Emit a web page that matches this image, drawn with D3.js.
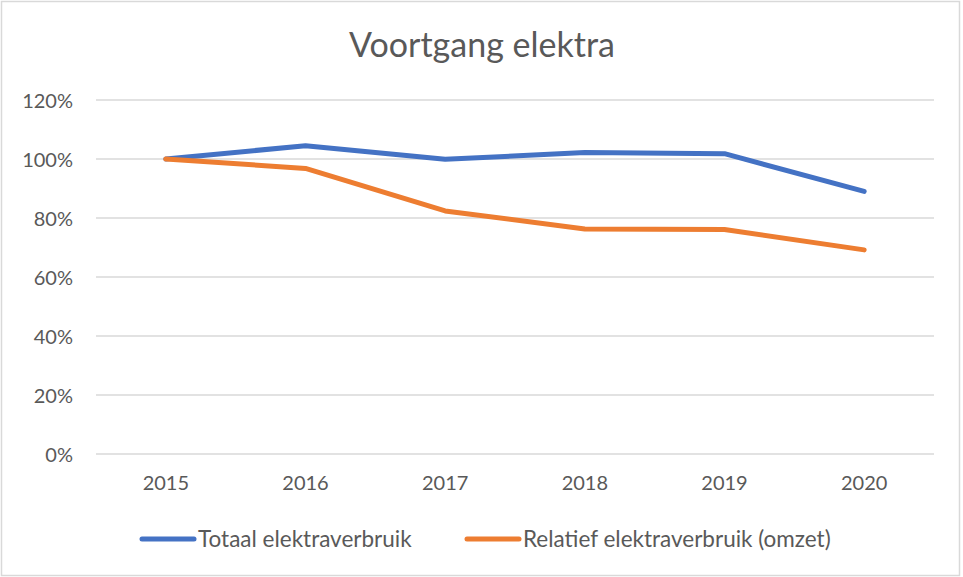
<!DOCTYPE html>
<html>
<head>
<meta charset="utf-8">
<script src="https://d3js.org/d3.v7.min.js"></script>
<style>
body { margin: 0; background: #fff; }
text { font-family: Lato, "Open Sans", sans-serif; fill: #595959; }
</style>
</head>
<body>
<div id="chart"></div>
<script>
// data
var years = ["2015", "2016", "2017", "2018", "2019", "2020"];
var totaal = [1.00, 1.045, 0.999, 1.022, 1.018, 0.89];
var relatief = [1.00, 0.968, 0.824, 0.763, 0.761, 0.692];
var seriesNames = ["Totaal elektraverbruik", "Relatief elektraverbruik (omzet)"];
var seriesColors = ["#4472C4", "#ED7D31"];
var yTicks = [0, 0.2, 0.4, 0.6, 0.8, 1.0, 1.2];

var W = 963, H = 577;
var margin = {top: 100, right: 29, bottom: 123, left: 96};
var width = W - margin.left - margin.right,
    height = H - margin.top - margin.bottom;

var svg = d3.select("#chart").append("svg")
  .attr("width", W)
  .attr("height", H);

// outer border
svg.append("rect")
  .attr("x", 1.5).attr("y", 1.5)
  .attr("width", W - 5).attr("height", H - 3)
  .attr("fill", "#fff")
  .attr("stroke", "#d9d9d9")
  .attr("stroke-width", 1.5);

// title
svg.append("text")
  .attr("x", 482).attr("y", 57)
  .attr("text-anchor", "middle")
  .style("font-size", "34px")
  .text("Voortgang elektra");

var g = svg.append("g")
  .attr("transform", "translate(" + margin.left + "," + margin.top + ")");

var x = d3.scaleBand().domain(years).range([0, width]);
var y = d3.scaleLinear().domain([0, 1.2]).range([height, 0]);

// gridlines
g.append("g")
  .selectAll("line")
  .data(yTicks)
  .enter().append("line")
    .attr("x1", 0).attr("x2", width)
    .attr("y1", function(d) { return y(d); })
    .attr("y2", function(d) { return y(d); })
    .attr("stroke", "#d9d9d9")
    .attr("stroke-width", 1.3);

// y axis labels
var yAxis = g.append("g")
  .call(d3.axisLeft(y).tickValues(yTicks).tickSize(0).tickPadding(23)
    .tickFormat(d3.format(".0%")));
yAxis.select(".domain").remove();
yAxis.selectAll("text").style("font-size", "20px").attr("dy", "0.35em");

// x axis labels
var xAxis = g.append("g")
  .attr("transform", "translate(0," + height + ")")
  .call(d3.axisBottom(x).tickSize(0).tickPadding(22));
xAxis.select(".domain").remove();
xAxis.selectAll("text").style("font-size", "20px");

// lines
var line = d3.line()
  .x(function(d, i) { return x(years[i]) + x.bandwidth() / 2; })
  .y(function(d) { return y(d); });

[totaal, relatief].forEach(function(s, k) {
  g.append("path")
    .datum(s)
    .attr("fill", "none")
    .attr("stroke", seriesColors[k])
    .attr("stroke-width", 5)
    .attr("stroke-linecap", "round")
    .attr("stroke-linejoin", "round")
    .attr("d", line);
});

// legend
var legendX = [140, 465];
var legend = svg.append("g");
seriesNames.forEach(function(name, k) {
  legend.append("line")
    .attr("x1", legendX[k] + 2).attr("x2", legendX[k] + 54)
    .attr("y1", 539).attr("y2", 539)
    .attr("stroke", seriesColors[k])
    .attr("stroke-width", 5)
    .attr("stroke-linecap", "round");
  legend.append("text")
    .attr("x", legendX[k] + 58).attr("y", 539)
    .attr("dy", "0.35em")
    .style("font-size", "22.5px")
    .text(name);
});
</script>
</body>
</html>
